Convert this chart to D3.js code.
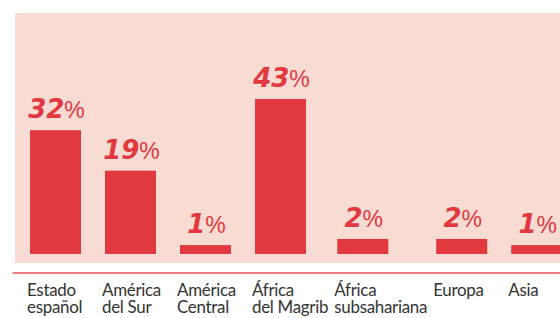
<!DOCTYPE html>
<html>
<head>
<meta charset="utf-8">
<script src="https://cdn.jsdelivr.net/npm/d3@7"></script>
<style>
  body { margin: 0; background: #fff; }
  svg { display: block; }
</style>
</head>
<body>
<script>
var categories = [
  ["Estado", "español"],
  ["América", "del Sur"],
  ["América", "Central"],
  ["África", "del Magrib"],
  ["África", "subsahariana"],
  ["Europa"],
  ["Asia"]
];
var values = [32, 19, 1, 43, 2, 2, 1];

var width = 560, height = 318;
var barW = 51, minSlot = 75, gap = 6, squeeze = 0.94;
var svg = d3.select("body").append("svg")
  .attr("width", width)
  .attr("height", height);

// panel background
svg.append("rect")
  .attr("x", 15)
  .attr("y", 13)
  .attr("width", width - 15)
  .attr("height", 250)
  .attr("fill", "#f8dbd3");

var names = categories.map(function(c) { return c.join(" "); });

// category labels first: a slot grows when its label is wide
var lab = svg.selectAll("text.cat")
  .data(categories)
  .enter().append("text")
  .attr("class", "cat")
  .attr("font-family", "Lato, sans-serif")
  .attr("font-size", 18)
  .attr("letter-spacing", -0.3)
  .attr("fill", "#333");
lab.selectAll("tspan")
  .data(function(d) { return d; })
  .enter().append("tspan")
  .attr("x", 0)
  .attr("y", function(d, j) { return 296 + j * 17; })
  .text(function(d) { return d; });

var slots = [];
lab.each(function() {
  var w = 0;
  d3.select(this).selectAll("tspan").each(function() {
    w = Math.max(w, this.getComputedTextLength() * squeeze);
  });
  slots.push(Math.max(w + gap, minSlot));
});

var starts = [30];
for (var i = 1; i < slots.length; i++) {
  starts.push(starts[i - 1] + slots[i - 1]);
}

var x = d3.scaleOrdinal().domain(names).range(starts);

// bar heights in the source are not linear, a pow scale follows them best
var y = d3.scalePow()
  .exponent(0.76)
  .domain([0, 43])
  .range([254, 99]);

lab.attr("transform", function(d, i) {
  return "translate(" + (x(names[i]) - 3) + ",0) scale(" + squeeze + ",1)";
});

svg.selectAll("rect.bar")
  .data(values)
  .enter().append("rect")
  .attr("class", "bar")
  .attr("x", function(d, i) { return x(names[i]); })
  .attr("y", function(d) { return y(d); })
  .attr("width", barW)
  .attr("height", function(d) { return y(0) - y(d); })
  .attr("fill", "#e1393f");

var val = svg.selectAll("text.val")
  .data(values)
  .enter().append("text")
  .attr("class", "val")
  .attr("x", function(d, i) { return x(names[i]) + barW / 2 + 1; })
  .attr("y", function(d) { return y(d) - 12; })
  .attr("text-anchor", "middle")
  .attr("fill", "#e1393f");
val.append("tspan")
  .attr("font-family", "DejaVu Sans")
  .attr("font-weight", "bold")
  .attr("font-style", "italic")
  .attr("font-size", 26)
  .text(function(d) { return d; });
val.append("tspan")
  .attr("font-family", "Liberation Sans")
  .attr("font-size", 23)
  .text("%");

// axis line
var axis = d3.axisBottom(d3.scaleLinear().domain([0, 1]).range([12, width]))
  .tickSize(0)
  .tickValues([]);
var ax = svg.append("g")
  .attr("transform", "translate(0,272.5)")
  .call(axis);
ax.select(".domain")
  .attr("stroke", "#e2555a")
  .attr("stroke-width", 1.6);
</script>
</body>
</html>
